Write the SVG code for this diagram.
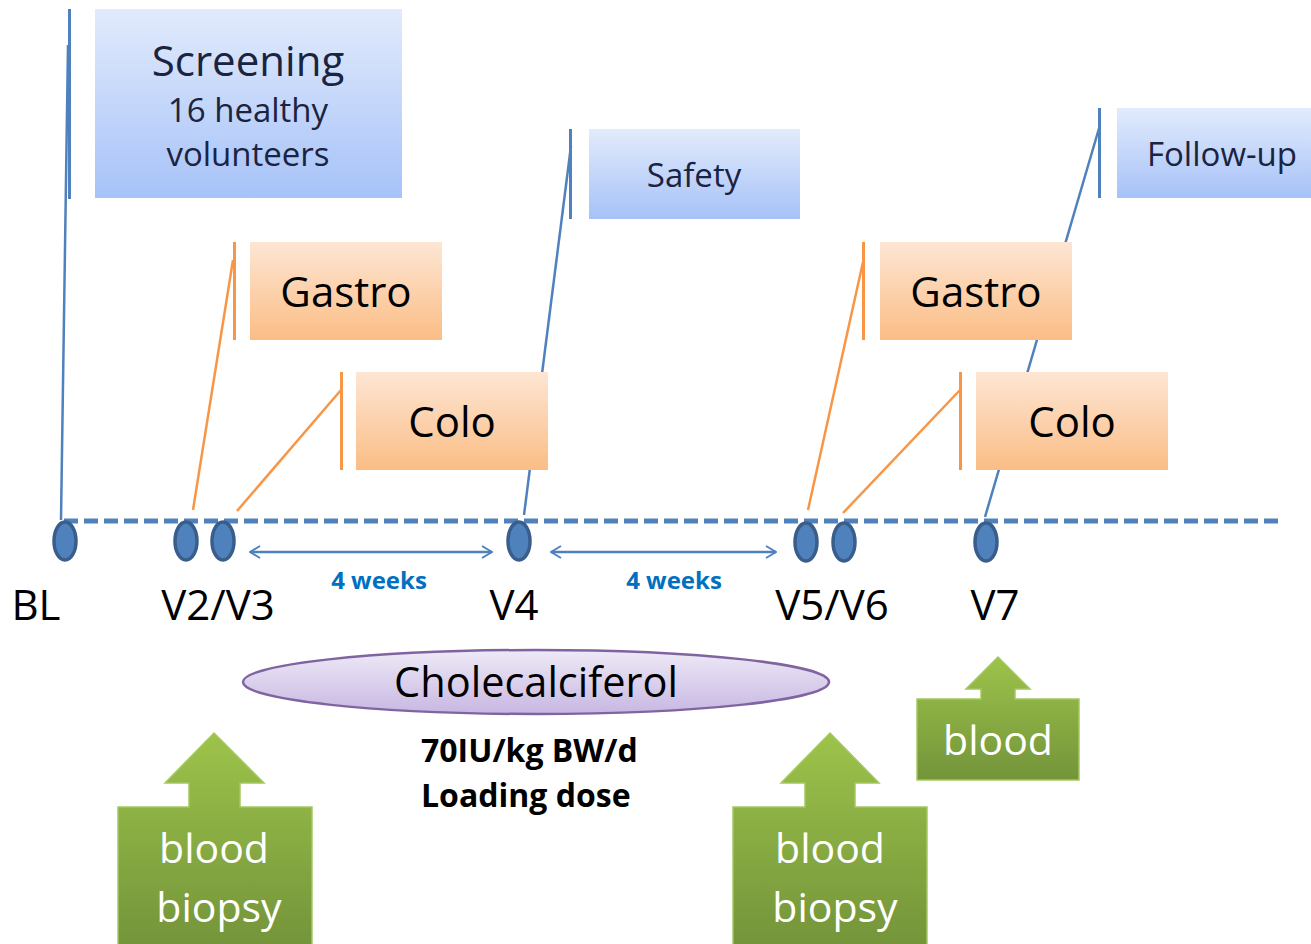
<svg xmlns="http://www.w3.org/2000/svg" width="1311" height="944" viewBox="0 0 1311 944">
<defs>
<linearGradient id="gBlue" x1="0" y1="0" x2="0" y2="1"><stop offset="0" stop-color="#e2ebfc"/><stop offset="1" stop-color="#a6c2f8"/></linearGradient>
<linearGradient id="gOrange" x1="0" y1="0" x2="0" y2="1"><stop offset="0" stop-color="#fde6d4"/><stop offset="1" stop-color="#fbbd85"/></linearGradient>
<linearGradient id="gGreen" x1="0" y1="0" x2="0" y2="1"><stop offset="0" stop-color="#9dc34b"/><stop offset="1" stop-color="#74943a"/></linearGradient>
<linearGradient id="gPurple" x1="0" y1="0" x2="0" y2="1"><stop offset="0" stop-color="#eeeaf7"/><stop offset="1" stop-color="#c8b7e2"/></linearGradient>
<marker id="chev" viewBox="0 0 12 14" refX="11" refY="7" markerWidth="12" markerHeight="14" markerUnits="userSpaceOnUse" orient="auto-start-reverse">
<path d="M1,1 L11,7 L1,13" fill="none" stroke="#4f81bd" stroke-width="2"/>
</marker>
<style>
.t{font-family:"Open Sans","Liberation Sans",sans-serif;}
.blue{fill:url(#gBlue);}
.orange{fill:url(#gOrange);}
.green{fill:url(#gGreen);stroke:#a3c860;stroke-width:1.5;}
.navy{fill:#1a2340;}
.blk{fill:#000;}
.bar{stroke:#4f81bd;stroke-width:3;}
.obar{stroke:#f79646;stroke-width:3;}
.lead{stroke:#4f81bd;stroke-width:2.5;fill:none;}
.olead{stroke:#f79646;stroke-width:2.5;fill:none;}
.dot{fill:#4f81bd;stroke:#3a5e8c;stroke-width:3.5;}
.wk{font-family:"Open Sans","Liberation Sans",sans-serif;font-weight:bold;font-size:24px;fill:#0070c0;}
.lbl{font-family:"Open Sans","Liberation Sans",sans-serif;font-size:42px;fill:#000;}
.wt{font-family:"Open Sans","Liberation Sans",sans-serif;font-size:41px;fill:#fff;}
</style>
</defs>
<rect width="1311" height="944" fill="#fff"/>
<g id="connectors">
<line x1="64" y1="521" x2="1280" y2="521" stroke="#4f81bd" stroke-width="5" stroke-dasharray="14,6"/>
<line class="lead" x1="61" y1="520" x2="68" y2="45"/>
<line class="lead" x1="524" y1="515" x2="571" y2="146"/>
<line class="lead" x1="985" y1="517" x2="1100" y2="125"/>
<line class="olead" x1="193" y1="510" x2="233" y2="260"/>
<line class="olead" x1="237" y1="511" x2="341" y2="390"/>
<line class="olead" x1="808" y1="510" x2="863" y2="262"/>
<line class="olead" x1="843" y1="513" x2="960" y2="390"/>
<line x1="250" y1="552" x2="492" y2="552" stroke="#4f81bd" stroke-width="2.5" marker-start="url(#chev)" marker-end="url(#chev)"/>
<line x1="551" y1="552" x2="776" y2="552" stroke="#4f81bd" stroke-width="2.5" marker-start="url(#chev)" marker-end="url(#chev)"/>
</g>
<g id="screening">
<line class="bar" x1="69.5" y1="9" x2="69.5" y2="199"/>
<rect class="blue" x="95" y="9" width="307" height="189"/>
<text class="t navy" x="248" y="76" font-size="42" text-anchor="middle">Screening</text>
<text class="t navy" x="248" y="122" font-size="33" text-anchor="middle">16 healthy</text>
<text class="t navy" x="248" y="166" font-size="33" text-anchor="middle">volunteers</text>
</g>
<g id="safety">
<line class="bar" x1="570.5" y1="129" x2="570.5" y2="219"/>
<rect class="blue" x="589" y="129" width="211" height="90"/>
<text class="t navy" x="694" y="187" font-size="33" text-anchor="middle">Safety</text>
</g>
<g id="followup">
<line class="bar" x1="1099.5" y1="108" x2="1099.5" y2="198"/>
<rect class="blue" x="1117" y="108" width="194" height="90"/>
<text class="t navy" x="1222" y="166" font-size="33" text-anchor="middle">Follow-up</text>
</g>
<g id="gastro1">
<line class="obar" x1="234.5" y1="242" x2="234.5" y2="340"/>
<rect class="orange" x="250" y="242" width="192" height="98"/>
<text class="t blk" x="346" y="307" font-size="42" text-anchor="middle">Gastro</text>
</g>
<g id="colo1">
<line class="obar" x1="341.5" y1="372" x2="341.5" y2="470"/>
<rect class="orange" x="356" y="372" width="192" height="98"/>
<text class="t blk" x="452" y="437" font-size="42" text-anchor="middle">Colo</text>
</g>
<g id="gastro2">
<line class="obar" x1="863.5" y1="242" x2="863.5" y2="340"/>
<rect class="orange" x="880" y="242" width="192" height="98"/>
<text class="t blk" x="976" y="307" font-size="42" text-anchor="middle">Gastro</text>
</g>
<g id="colo2">
<line class="obar" x1="960.5" y1="372" x2="960.5" y2="470"/>
<rect class="orange" x="976" y="372" width="192" height="98"/>
<text class="t blk" x="1072" y="437" font-size="42" text-anchor="middle">Colo</text>
</g>
<g id="visits">
<ellipse class="dot" cx="65" cy="541" rx="11" ry="19"/>
<ellipse class="dot" cx="186" cy="541" rx="11" ry="19"/>
<ellipse class="dot" cx="223" cy="541" rx="11" ry="19"/>
<ellipse class="dot" cx="519" cy="541" rx="11" ry="19"/>
<ellipse class="dot" cx="806" cy="542" rx="11" ry="19"/>
<ellipse class="dot" cx="844" cy="542" rx="11" ry="19"/>
<ellipse class="dot" cx="986" cy="542" rx="11" ry="19"/>
<text class="lbl" x="36" y="620" text-anchor="middle">BL</text>
<text class="lbl" x="218" y="620" text-anchor="middle">V2/V3</text>
<text class="lbl" x="514" y="620" text-anchor="middle">V4</text>
<text class="lbl" x="832" y="620" text-anchor="middle">V5/V6</text>
<text class="lbl" x="995" y="620" text-anchor="middle">V7</text>
<text class="wk" x="379" y="589" text-anchor="middle">4 weeks</text>
<text class="wk" x="674" y="589" text-anchor="middle">4 weeks</text>
</g>
<g id="cholecalciferol">
<ellipse cx="536" cy="682" rx="293" ry="32" fill="url(#gPurple)" stroke="#8064a2" stroke-width="2.5"/>
<text class="t blk" x="536" y="697" font-size="41.5" text-anchor="middle">Cholecalciferol</text>
<text class="t blk" x="421" y="762" font-size="32" font-weight="bold">70IU/kg BW/d</text>
<text class="t blk" x="421" y="807" font-size="32" font-weight="bold">Loading dose</text>
</g>
<g id="sample1">
<path class="green" d="M214,733 L264,783 L240,783 L240,807 L312,807 L312,946 L118,946 L118,807 L189,807 L189,783 L165,783 Z"/>
<text class="wt" x="214" y="863" text-anchor="middle">blood</text>
<text class="wt" x="219" y="922" text-anchor="middle">biopsy</text>
</g>
<g id="sample2">
<path class="green" d="M830,733 L879,783 L855,783 L855,807 L927,807 L927,946 L733,946 L733,807 L805,807 L805,783 L781,783 Z"/>
<text class="wt" x="830" y="863" text-anchor="middle">blood</text>
<text class="wt" x="835" y="922" text-anchor="middle">biopsy</text>
</g>
<g id="sample3">
<path class="green" d="M998,657 L1030,689 L1015,689 L1015,699 L1079,699 L1079,780 L917,780 L917,699 L981,699 L981,689 L966,689 Z"/>
<text class="wt" x="998" y="755" text-anchor="middle">blood</text>
</g>
</svg>
